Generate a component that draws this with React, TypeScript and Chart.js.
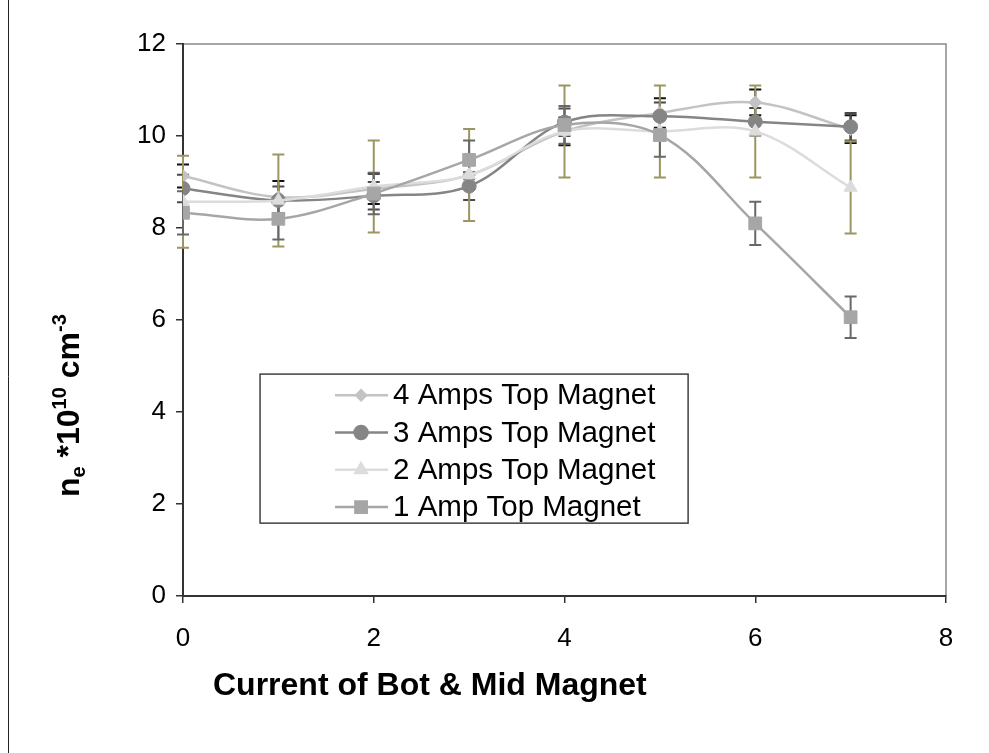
import { useEffect, useRef } from "react";
import { Chart, registerables } from "chart.js";
import { drawPoint } from "chart.js/helpers";

Chart.register(...registerables);

// Current of bottom & middle magnets (A)
const currents = [0, 1, 2, 3, 4, 5, 6, 7];

// Electron density n_e (×10^10 cm^-3) for each top-magnet current
const amps4 = [9.13, 8.67, 8.85, 9.15, 10.1, 10.5, 10.73, 10.15];
const amps3 = [8.86, 8.6, 8.7, 8.91, 10.3, 10.43, 10.31, 10.2];
const amps2 = [8.57, 8.6, 8.9, 9.15, 10.1, 10.1, 10.1, 8.88];
const amp1 = [8.33, 8.2, 8.75, 9.48, 10.24, 10.02, 8.1, 6.06];

// Symmetric error bar half-widths
const err4 = [0.25, 0.35, 0.33, 0.3, 0.3, 0.32, 0.28, 0.3];
const err3 = [0.3, 0.3, 0.3, 0.3, 0.3, 0.3, 0.3, 0.3];
const err2 = [1, 1, 1, 1, 1, 1, 1, 1];
const err1 = [0.47, 0.45, 0.45, 0.42, 0.41, 0.47, 0.47, 0.45];

const seriesNames = [
  "4 Amps Top Magnet",
  "3 Amps Top Magnet",
  "2 Amps Top Magnet",
  "1 Amp Top Magnet",
];

const xTicks = [0, 2, 4, 6, 8];
const yTicks = [0, 2, 4, 6, 8, 10, 12];

const FONT = "'Liberation Sans', Arial, sans-serif";

type Series = {
  name: string;
  values: number[];
  errors: number[];
  color: string;
  errColor: string;
  pointStyle: string;
  radius: number;
  legendRadius: number;
};

const series: Series[] = [
  { name: seriesNames[0], values: amps4, errors: err4, color: "#c3c3c3", errColor: "#111111", pointStyle: "rectRot", radius: 6.5, legendRadius: 5 },
  { name: seriesNames[1], values: amps3, errors: err3, color: "#858585", errColor: "#4a4a4a", pointStyle: "circle", radius: 7, legendRadius: 6.5 },
  { name: seriesNames[2], values: amps2, errors: err2, color: "#dcdcdc", errColor: "#9d9561", pointStyle: "triangle", radius: 7.5, legendRadius: 6.5 },
  { name: seriesNames[3], values: amp1, errors: err1, color: "#a6a6a6", errColor: "#686868", pointStyle: "rect", radius: 9, legendRadius: 8 },
];

const framePlugin = {
  id: "frame",
  beforeDraw(chart: any) {
    const { ctx, chartArea, height } = chart;
    ctx.save();
    ctx.fillStyle = "#ffffff";
    ctx.fillRect(0, 0, chart.width, height);
    // page edge rule
    ctx.strokeStyle = "#222222";
    ctx.lineWidth = 1;
    ctx.beginPath();
    ctx.moveTo(8.5, 0);
    ctx.lineTo(8.5, height);
    ctx.stroke();
    // plot-area outline (top and right)
    ctx.strokeStyle = "#8a8a8a";
    ctx.lineWidth = 1.5;
    ctx.beginPath();
    ctx.moveTo(chartArea.left, chartArea.top);
    ctx.lineTo(chartArea.right, chartArea.top);
    ctx.lineTo(chartArea.right, chartArea.bottom);
    ctx.stroke();
    ctx.restore();
  },
};

const errorBarPlugin = {
  id: "errorBars",
  beforeDatasetsDraw(chart: any) {
    const { ctx, scales } = chart;
    const xs = scales.x;
    const ys = scales.y;
    ctx.save();
    series.forEach((s) => {
      ctx.strokeStyle = s.errColor;
      ctx.lineWidth = 2;
      s.values.forEach((v, i) => {
        const e = s.errors[i];
        const px = xs.getPixelForValue(currents[i]);
        const top = ys.getPixelForValue(v + e);
        const bot = ys.getPixelForValue(v - e);
        ctx.beginPath();
        ctx.moveTo(px, top);
        ctx.lineTo(px, bot);
        ctx.moveTo(px - 6, top);
        ctx.lineTo(px + 6, top);
        ctx.moveTo(px - 6, bot);
        ctx.lineTo(px + 6, bot);
        ctx.stroke();
      });
    });
    ctx.restore();
  },
};

const legendPlugin = {
  id: "boxLegend",
  afterDraw(chart: any) {
    const { ctx, chartArea } = chart;
    const w = chartArea.right - chartArea.left;
    const h = chartArea.bottom - chartArea.top;
    const bx = chartArea.left + w * 0.101;
    const by = chartArea.top + h * 0.598;
    const bw = w * 0.561;
    const bh = h * 0.27;
    ctx.save();
    ctx.fillStyle = "#ffffff";
    ctx.fillRect(bx, by, bw, bh);
    ctx.strokeStyle = "#404040";
    ctx.lineWidth = 1.5;
    ctx.strokeRect(bx, by, bw, bh);
    const rowGap = bh / 4;
    series.forEach((s, i) => {
      const cy = by + rowGap * (i + 0.57);
      ctx.strokeStyle = s.color;
      ctx.lineWidth = 2.5;
      ctx.beginPath();
      ctx.moveTo(bx + 75, cy);
      ctx.lineTo(bx + 128, cy);
      ctx.stroke();
      ctx.fillStyle = s.color;
      ctx.strokeStyle = s.color;
      drawPoint(ctx, { pointStyle: s.pointStyle as any, radius: s.legendRadius, rotation: 0, borderWidth: 1 }, bx + 101, cy);
      ctx.fillStyle = "#000000";
      ctx.font = `29.5px ${FONT}`;
      ctx.textAlign = "left";
      ctx.textBaseline = "middle";
      ctx.fillText(s.name, bx + 133, cy + 1);
    });
    ctx.restore();
  },
};

const titlePlugin = {
  id: "axisTitles",
  afterDraw(chart: any) {
    const { ctx, chartArea } = chart;
    ctx.save();
    ctx.fillStyle = "#000000";
    // x-axis title
    ctx.font = `bold 32px ${FONT}`;
    ctx.textAlign = "left";
    ctx.textBaseline = "alphabetic";
    ctx.fillText("Current of Bot & Mid Magnet", chartArea.left + 30, chartArea.bottom + 99);

    // y-axis title with subscript and superscripts, rotated
    ctx.translate(chartArea.left - 104, chartArea.bottom - 99);
    ctx.rotate(-Math.PI / 2);
    const parts: [string, "n" | "sub" | "sup"][] = [
      ["n", "n"],
      ["e", "sub"],
      [" *10", "n"],
      ["10", "sup"],
      [" cm", "n"],
      ["-3", "sup"],
    ];
    let x = 0;
    parts.forEach(([t, kind]) => {
      const size = kind === "n" ? 32 : 20;
      ctx.font = `bold ${size}px ${FONT}`;
      const dy = kind === "sub" ? 6 : kind === "sup" ? -13 : 0;
      ctx.fillText(t, x, dy);
      x += ctx.measureText(t).width;
    });
    ctx.restore();
  },
};

export default function App() {
  const ref = useRef<HTMLCanvasElement | null>(null);

  useEffect(() => {
    document.body.style.margin = "0";
    document.body.style.overflow = "hidden";
    const canvas = ref.current;
    if (!canvas) return;

    const datasets = series.map((s, idx) => ({
      label: s.name,
      data: currents.map((c, i) => ({ x: c, y: s.values[i] })),
      borderColor: s.color,
      backgroundColor: s.color,
      borderWidth: 2.5,
      pointStyle: s.pointStyle as any,
      pointRadius: s.radius,
      pointBorderWidth: 1,
      pointBackgroundColor: s.color,
      pointBorderColor: s.color,
      tension: 0.35,
      fill: false,
      order: series.length - 1 - idx,
    }));

    const tickFont = { family: FONT, size: 26 };

    const chart = new Chart(canvas, {
      type: "line",
      data: { datasets },
      options: {
        animation: false,
        responsive: false,
        devicePixelRatio: 1,
        layout: { padding: { left: 0, top: 44, right: 43, bottom: 0 } },
        plugins: {
          legend: { display: false },
          tooltip: { enabled: false },
          title: { display: false },
        },
        scales: {
          x: {
            type: "linear",
            min: 0,
            max: 8,
            afterBuildTicks: (s: any) => {
              s.ticks = xTicks.map((v) => ({ value: v }));
            },
            afterFit: (s: any) => {
              s.height = 157;
            },
            ticks: { color: "#000", font: tickFont, padding: 20, maxRotation: 0 },
            grid: { drawOnChartArea: false, drawTicks: true, tickLength: 7, color: "#333", lineWidth: 1.5 },
            border: { display: true, color: "#333", width: 2 },
          },
          y: {
            type: "linear",
            min: 0,
            max: 12,
            afterBuildTicks: (s: any) => {
              s.ticks = yTicks.map((v) => ({ value: v }));
            },
            afterFit: (s: any) => {
              s.width = 183;
            },
            ticks: { color: "#000", font: tickFont, padding: 10 },
            grid: { drawOnChartArea: false, drawTicks: true, tickLength: 7, color: "#333", lineWidth: 1.5 },
            border: { display: true, color: "#333", width: 2 },
          },
        },
      },
      plugins: [framePlugin, errorBarPlugin, legendPlugin, titlePlugin],
    });

    return () => chart.destroy();
  }, []);

  return (
    <div style={{ width: 989, height: 753, position: "relative" }}>
      <canvas ref={ref} width={989} height={753} style={{ display: "block" }} />
    </div>
  );
}
